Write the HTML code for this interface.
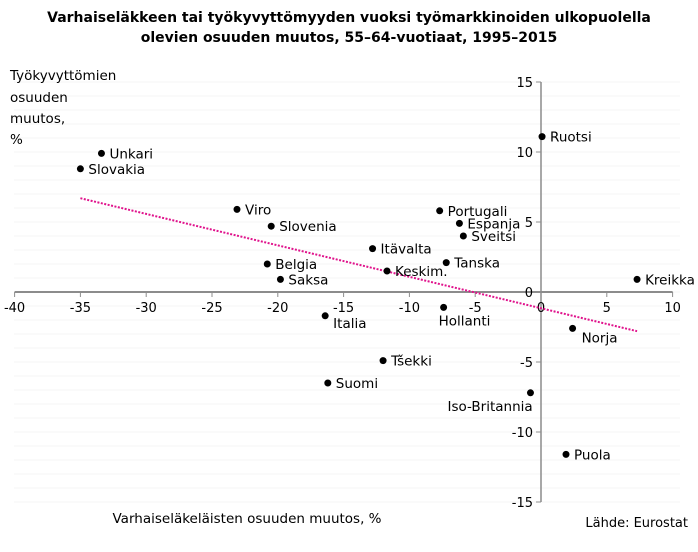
<!DOCTYPE html>
<html><head><meta charset="utf-8"><style>
body{margin:0;background:#fff;font-family:"Liberation Sans","DejaVu Sans",sans-serif}
</style></head><body>
<svg width="698" height="547" xmlns="http://www.w3.org/2000/svg" font-family="DejaVu Sans, Liberation Sans, sans-serif">
<g id="grid"></g>
<text x="349" y="22" text-anchor="middle" font-size="14" font-weight="bold">Varhaiseläkkeen tai työkyvyttömyyden vuoksi työmarkkinoiden ulkopuolella</text>
<text x="349" y="42" text-anchor="middle" font-size="14" font-weight="bold">olevien osuuden muutos, 55–64-vuotiaat, 1995–2015</text>
<g font-size="13.5"><text x="10" y="80">Työkyvyttömien</text><text x="10" y="102">osuuden</text><text x="10" y="123">muutos,</text><text x="10" y="144">%</text></g>
<text x="247" y="523" text-anchor="middle" font-size="13.5">Varhaiseläkeläisten osuuden muutos, %</text>
<text x="688" y="527" text-anchor="end" font-size="13">Lähde: Eurostat</text>
<g id="axes"></g><g id="trend"></g><g id="pts"></g>
</svg>
<script>
const countries=["Ruotsi","Unkari","Slovakia","Viro","Slovenia","Portugali","Espanja","Sveitsi","Itävalta","Tanska","Belgia","Keskim.","Saksa","Kreikka","Italia","Hollanti","Norja","Tšekki","Suomi","Iso-Britannia","Puola"];
const xVals=[0.08,-33.4,-35.0,-23.1,-20.5,-7.7,-6.2,-5.9,-12.8,-7.2,-20.8,-11.7,-19.8,7.3,-16.4,-7.4,2.4,-12.0,-16.2,-0.8,1.9];
const yVals=[11.1,9.9,8.8,5.9,4.7,5.8,4.9,4.0,3.1,2.1,2.0,1.5,0.9,0.9,-1.7,-1.1,-2.6,-4.9,-6.5,-7.2,-11.6];
const xTicks=[-40,-35,-30,-25,-20,-15,-10,-5,0,5,10];
const yTicks=[15,10,5,0,-5,-10,-15];
const trendX=[-35,7.3], trendY=[6.7,-2.8];
const labelDx={"Italia":8,"Hollanti":-5,"Norja":9,"Iso-Britannia":-83};
const labelDy={"Italia":12,"Hollanti":18,"Norja":14,"Iso-Britannia":18};
const NS="http://www.w3.org/2000/svg";
const sx=v=>541+v*13.16, sy=v=>292-v*14;
function mk(t,a,p){const e=document.createElementNS(NS,t);for(const k in a)e.setAttribute(k,a[k]);document.getElementById(p).appendChild(e);return e;}
for(let v=-15;v<=15;v++){const g=mk('line',{x1:14,x2:680,y1:sy(v),y2:sy(v),stroke:'#f5f5f5','stroke-width':1},'grid');

}
let a=mk('line',{x1:sx(-40),x2:sx(10),y1:sy(0),y2:sy(0),stroke:'#8c8c8c','stroke-width':2},'axes');


a=mk('line',{x1:sx(0),x2:sx(0),y1:sy(15),y2:sy(-15),stroke:'#8c8c8c','stroke-width':1.5},'axes');


xTicks.forEach(v=>{mk('line',{x1:sx(v),x2:sx(v),y1:sy(0),y2:sy(0)+5,stroke:'#8c8c8c'},'axes');
const t=mk('text',{x:sx(v),y:sy(0)+20,'text-anchor':'middle','font-size':13},'axes');t.textContent=v;

});
yTicks.forEach(v=>{mk('line',{x1:sx(0)-5,x2:sx(0),y1:sy(v),y2:sy(v),stroke:'#8c8c8c'},'axes');
const t=mk('text',{x:sx(0)-8,y:sy(v)+5,'text-anchor':'end','font-size':13},'axes');t.textContent=v;

});
const tl=mk('line',{x1:sx(trendX[0]),y1:sy(trendY[0]),x2:sx(trendX[1]),y2:sy(trendY[1]),stroke:'#e0138c','stroke-width':2,'stroke-dasharray':'2 1.5'},'trend');


countries.forEach((c,i)=>{const px=sx(xVals[i]),py=sy(yVals[i]);
const d=mk('circle',{cx:px,cy:py,r:3.5,fill:'#000'},'pts');


const dx=(c in labelDx)?labelDx[c]:8, dy=(c in labelDy)?labelDy[c]:5;
const t=mk('text',{x:px+dx,y:py+dy,'font-size':13.5},'pts');
t.textContent=c;

});
</script>
</body></html>
